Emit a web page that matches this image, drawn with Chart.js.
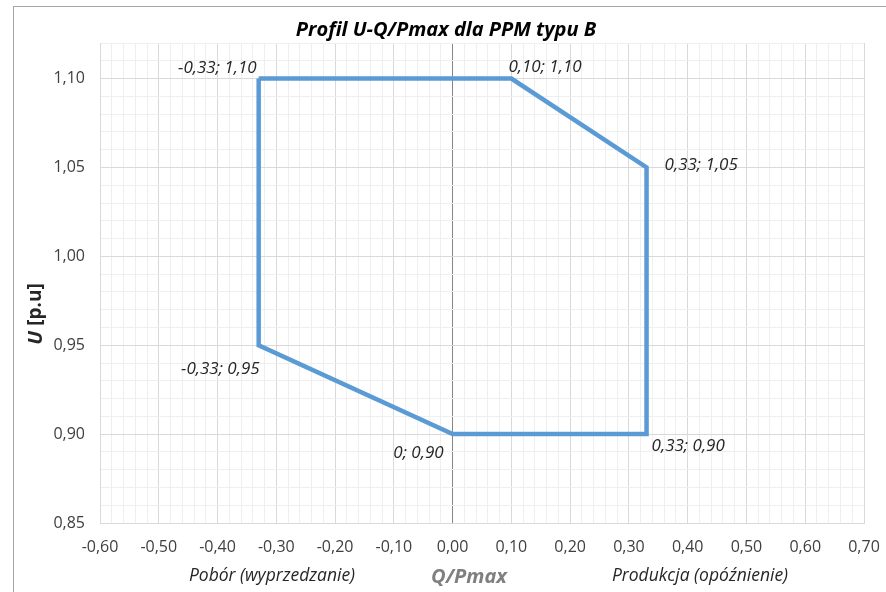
<!DOCTYPE html>
<html>
<head>
<meta charset="utf-8">
<script src="https://cdn.jsdelivr.net/npm/chart.js@4.4.1/dist/chart.umd.min.js"></script>
<style>
  body { margin: 0; background: #ffffff; }
  #wrap { position: relative; width: 886px; height: 592px; }
</style>
</head>
<body>
<div id="wrap"><canvas id="profileChart"></canvas></div>
<script>
// Q/Pmax (x) i U [p.u] (y) - wierzcholki profilu, zamkniety wielokat
const qValues = [-0.33, 0.10, 0.33, 0.33, 0.00, -0.33, -0.33];
const uValues = [1.10, 1.10, 1.05, 0.90, 0.90, 0.95, 1.10];

const xTicksMin = -0.6, xTicksMax = 0.7, xMinorStep = 0.02;
const yTicksMin = 0.85, yTicksMax = 1.12, yMinorStep = 0.01;

const chartTitle = 'Profil U-Q/Pmax dla PPM typu B';
const xTitle = 'Q/Pmax';
const leftNote = 'Pobór (wyprzedzanie)';
const rightNote = 'Produkcja (opóźnienie)';

function fmt(v) {
    if (v === 0) return '0';
    return v.toFixed(2).replace('.', ',');
}

function tickText(v) {
    const r = Math.round(v * 100) / 100 + 0; // bez "-0,00"
    return (r === 0 ? 0 : r).toFixed(2).replace('.', ',');
}

// gdzie wypisac etykiete wzgledem punktu
const labelPlace = [
    { align: 'right', dx: -2, dy: -10 },
    { align: 'left', dx: -3, dy: -11 },
    { align: 'left', dx: 18, dy: -2 },
    { align: 'left', dx: 5, dy: 12 },
    { align: 'right', dx: -9, dy: 19 },
    { align: 'right', dx: 1, dy: 24 }
];

const points = qValues.map(function (q, i) {
    return { x: q, y: uValues[i] };
});

const decorPlugin = {
    id: 'decor',
    beforeDraw(chart) {
        const c = chart.ctx;
        c.save();
        c.fillStyle = '#ffffff';
        c.fillRect(0, 0, chart.width, chart.height);
        c.strokeStyle = '#a6a6a6';
        c.lineWidth = 1;
        c.strokeRect(13.5, 6.5, 1000, 1000);
        c.restore();
    },
    afterDatasetsDraw(chart) {
        const c = chart.ctx;
        const meta = chart.getDatasetMeta(0);
        c.save();
        c.font = 'italic 17px "Open Sans"';
        c.fillStyle = '#262626';
        c.textBaseline = 'middle';
        labelPlace.forEach(function (p, i) {
            const el = meta.data[i];
            c.textAlign = p.align;
            c.fillText(fmt(qValues[i]) + '; ' + fmt(uValues[i]), el.x + p.dx, el.y + p.dy);
        });

        // tytul wykresu
        c.textAlign = 'center';
        c.fillStyle = '#000000';
        c.font = 'italic bold 20px "Open Sans"';
        c.fillText(chartTitle, 446, 30);

        // opisy pod osia X
        c.fillStyle = '#262626';
        c.font = 'italic 17.5px "Open Sans"';
        c.fillText(leftNote, 272, 576);
        c.fillText(rightNote, 700, 576);
        c.fillStyle = '#7f7f7f';
        c.font = 'italic bold 20px "Open Sans"';
        c.fillText(xTitle, 469, 577);

        // opis osi Y
        c.translate(36, 314);
        c.rotate(-Math.PI / 2);
        c.fillStyle = '#262626';
        c.textAlign = 'left';
        c.font = 'italic bold 20px "Open Sans"';
        const uW = c.measureText('U ').width;
        c.font = 'bold 19px "Open Sans"';
        const rest = '[p.u]';
        const total = uW + c.measureText(rest).width;
        c.font = 'italic bold 20px "Open Sans"';
        c.fillText('U ', -total / 2, 0);
        c.font = 'bold 19px "Open Sans"';
        c.fillText(rest, -total / 2 + uW, 0);
        c.restore();
    }
};

const ctx = document.getElementById('profileChart');

new Chart(ctx, {
    type: 'scatter',
    data: {
        datasets: [{
            data: points,
            showLine: true,
            borderColor: '#5b9bd5',
            borderWidth: 4.5,
            borderJoinStyle: 'miter',
            pointRadius: 0,
            pointHoverRadius: 0,
            fill: false
        }]
    },
    options: {
        responsive: true,
        maintainAspectRatio: false,
        animation: false,
        layout: {
            padding: { left: 0, top: 43, right: 22, bottom: 0 }
        },
        scales: {
            x: {
                type: 'linear',
                min: xTicksMin,
                max: xTicksMax,
                afterFit: function (scale) {
                    scale.height = 69;
                    scale.paddingLeft = 0;
                    scale.paddingRight = 0;
                },
                border: { color: '#d9d9d9' },
                grid: {
                    drawTicks: false,
                    color: function (c) {
                        const v = Math.round(c.tick.value * 100);
                        if (v === 0) return '#868686';
                        return v % 10 === 0 ? '#d9d9d9' : '#efefef';
                    }
                },
                ticks: {
                    stepSize: xMinorStep,
                    autoSkip: false,
                    maxRotation: 0,
                    minRotation: 0,
                    padding: 15,
                    color: '#404040',
                    font: { family: 'Open Sans', size: 16 },
                    callback: function (v) {
                        return Math.round(v * 100) % 10 === 0 ? tickText(v) : '';
                    }
                }
            },
            y: {
                type: 'linear',
                min: yTicksMin,
                max: yTicksMax,
                afterFit: function (scale) { scale.width = 100; },
                border: { color: '#d9d9d9' },
                grid: {
                    drawTicks: false,
                    color: function (c) {
                        const v = Math.round(c.tick.value * 100);
                        return v % 5 === 0 ? '#d9d9d9' : '#efefef';
                    }
                },
                ticks: {
                    stepSize: yMinorStep,
                    autoSkip: false,
                    padding: 15,
                    color: '#404040',
                    font: { family: 'Open Sans', size: 16 },
                    callback: function (v) {
                        return Math.round(v * 100) % 5 === 0 ? tickText(v) : '';
                    }
                }
            }
        },
        plugins: {
            legend: { display: false },
            tooltip: { enabled: false }
        }
    },
    plugins: [decorPlugin]
});
</script>
</body>
</html>
